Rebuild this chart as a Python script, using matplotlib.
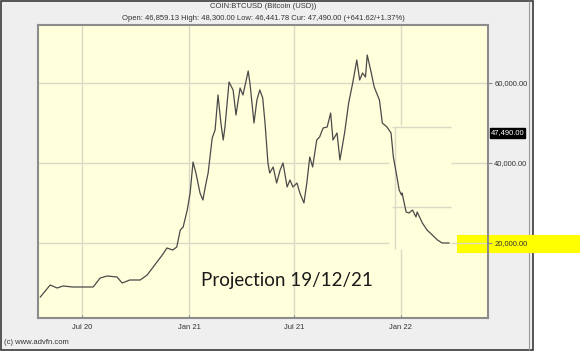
import matplotlib.pyplot as plt
import pandas as pd
from matplotlib.patches import Rectangle
from matplotlib.transforms import blended_transform_factory

plt.rcParams['font.family'] = ['Liberation Sans', 'DejaVu Sans']

dates = [
    '2020-04-20', '2020-05-07', '2020-05-19', '2020-05-29', '2020-06-15', '2020-07-02',
    '2020-07-20', '2020-08-01', '2020-08-13', '2020-08-30', '2020-09-08', '2020-09-21',
    '2020-10-09', '2020-10-21', '2020-11-03', '2020-11-16', '2020-11-24', '2020-12-04',
    '2020-12-11', '2020-12-17', '2020-12-22', '2020-12-29', '2021-01-03', '2021-01-08',
    '2021-01-13', '2021-01-20', '2021-01-25', '2021-01-29', '2021-02-03', '2021-02-10',
    '2021-02-15', '2021-02-20', '2021-02-25', '2021-03-01', '2021-03-04', '2021-03-11',
    '2021-03-18', '2021-03-23', '2021-03-30', '2021-04-04', '2021-04-13', '2021-04-16',
    '2021-04-23', '2021-04-28', '2021-05-03', '2021-05-08', '2021-05-12', '2021-05-17',
    '2021-05-20', '2021-05-26', '2021-06-01', '2021-06-07', '2021-06-12', '2021-06-19',
    '2021-06-24', '2021-06-29', '2021-07-06', '2021-07-11', '2021-07-18', '2021-07-23',
    '2021-07-28', '2021-08-02', '2021-08-09', '2021-08-14', '2021-08-20', '2021-08-27',
    '2021-09-02', '2021-09-06', '2021-09-13', '2021-09-18', '2021-09-26', '2021-10-03',
    '2021-10-10', '2021-10-17', '2021-10-22', '2021-10-27', '2021-11-01', '2021-11-04',
    '2021-11-11', '2021-11-16', '2021-11-25', '2021-11-30', '2021-12-08', '2021-12-15',
    '2021-12-19', '2021-12-24', '2021-12-29', '2022-01-02', '2022-01-03', '2022-01-10',
    '2022-01-15', '2022-01-21', '2022-01-27', '2022-01-29', '2022-02-07', '2022-02-15',
    '2022-02-24', '2022-03-05', '2022-03-13', '2022-03-25',
]
prices = [
    6500, 9500, 8750, 9250, 9000, 9000,
    9000, 11250, 11750, 11500, 10000, 10750,
    10750, 12000, 14500, 17000, 18750, 18250,
    19000, 23250, 24000, 28250, 32500, 40250,
    37500, 32500, 30750, 34000, 37500, 46250,
    48250, 57000, 50000, 45750, 49000, 60250,
    58250, 52000, 58750, 57000, 63000, 60000,
    50000, 55750, 58250, 56250, 50000, 40000,
    37500, 39000, 35000, 38250, 40000, 34000,
    35750, 34000, 35000, 32500, 30000, 35000,
    41500, 39000, 45750, 46500, 48750, 49000,
    52500, 45750, 47500, 40750, 47500, 55000,
    60000, 65750, 60750, 62500, 61500, 67000,
    62500, 59000, 55750, 50000, 49000, 47500,
    41500, 37500, 33250, 32000, 32500, 27750,
    27500, 28250, 26500, 27750, 25000, 23250,
    22000, 20750, 20000, 20000,
]

tick_dates = ['2020-07-01', '2021-01-01', '2021-07-01', '2022-01-01']
tick_labels = ['Jul 20', 'Jan 21', 'Jul 21', 'Jan 22']
y_ticks = [20000, 40000, 60000]
current_price = 47490

title = 'COIN:BTCUSD (Bitcoin (USD))'
subtitle = ('Open: 46,859.13 High: 48,300.00 Low: 46,441.78 '
            'Cur: 47,490.00 (+641.62/+1.37%)')

W, H = 580, 351
grid_c = '#d9d9c6'

x = pd.to_datetime(dates)
ticks = pd.to_datetime(tick_dates)
d = pd.Timestamp

fig = plt.figure(figsize=(W / 100, H / 100), dpi=100)
fig.patch.set_facecolor('white')
# grey chart panel with dark frame
fig.add_artist(Rectangle((0.5 / W, 1 - 350 / H), 532 / W, 349 / H,
                         transform=fig.transFigure, facecolor='#efefef',
                         edgecolor='#3a3a3a', lw=1.2, zorder=-5))
fig.add_artist(Rectangle((529 / W, 1 - 350 / H), 0, 349 / H,
                         transform=fig.transFigure, fill=False,
                         edgecolor='#9a9a9a', lw=0.8, zorder=-4))

ax = fig.add_axes([38 / W, 1 - 318 / H, 450 / W, 293 / H])
ax.set_facecolor('#ffffdc')

# grid (with the pasted-over "projection" patch breaking some lines)
for t in ticks[:3]:
    ax.axvline(t, color=grid_c, lw=1, zorder=1)
ax.vlines(ticks[3], 49500, 74500, color=grid_c, lw=1, zorder=1)
ax.vlines(ticks[3], 0, 18500, color=grid_c, lw=1, zorder=1)
ax.axhline(60000, color=grid_c, lw=1, zorder=1)
for v in [40000, 20000]:
    ax.hlines(v, d('2020-01-01'), d('2021-12-11'), color=grid_c, lw=1, zorder=1)
    ax.hlines(v, d('2022-03-29'), d('2022-12-01'), color=grid_c, lw=1, zorder=1)
ax.hlines([49000, 29000], d('2021-12-17'), d('2022-03-28'), color=grid_c, lw=1, zorder=1)
ax.vlines(d('2021-12-21'), 18500, 49000, color=grid_c, lw=1, zorder=1)

ax.plot(x, prices, color='#4a4a4a', lw=0.9, zorder=3)

ax.set_xlim(d('2020-04-16'), d('2022-05-31'))
ax.set_ylim(1250, 74500)

ax.set_xticks(ticks)
ax.set_xticklabels(tick_labels)
ax.yaxis.tick_right()
ax.set_yticks(y_ticks)
ax.set_yticklabels([f'{v:,.2f}' for v in y_ticks])
ax.tick_params(axis='x', direction='in', length=2, pad=4, labelsize=5.5,
               colors='#8a8a8a', labelcolor='#333333')
ax.tick_params(axis='y', direction='out', length=3, pad=1.5, labelsize=5.5,
               colors='#8a8a8a', labelcolor='#333333')
for s in ax.spines.values():
    s.set_color('#8c8c8c')
    s.set_linewidth(1.5)

# current price marker on the axis
tr = blended_transform_factory(ax.transAxes, ax.transData)
ax.text(1.006, current_price, f'{current_price:,.2f}', transform=tr,
        fontsize=5.5, color='white', va='center', ha='left', clip_on=False,
        bbox=dict(boxstyle='square,pad=0.15', fc='black', ec='black'))

# highlighter stroke over the 20,000 level
ax.add_patch(Rectangle((457 / W, 1 - 253 / H), 123 / W, 18 / H,
                       transform=fig.transFigure, facecolor='#ffff00',
                       edgecolor='none', clip_on=False, zorder=0.8))

fig.text(263 / W, 1 - 7 / H, title, ha='center', va='center', fontsize=5.5, color='#333333')
fig.text(263 / W, 1 - 18 / H, subtitle, ha='center', va='center', fontsize=5.5, color='#333333')
fig.text(4 / W, 1 - 343 / H, '(c) www.advfn.com', ha='left', va='center',
         fontsize=5.5, color='#333333')

ax.text(d('2021-01-21'), 9200, 'Projection 19/12/21', fontsize=13.5,
        family=['Lato', 'DejaVu Sans'], color='#1a1a1a', va='baseline', zorder=4)

fig.savefig('out.png', dpi=100)
